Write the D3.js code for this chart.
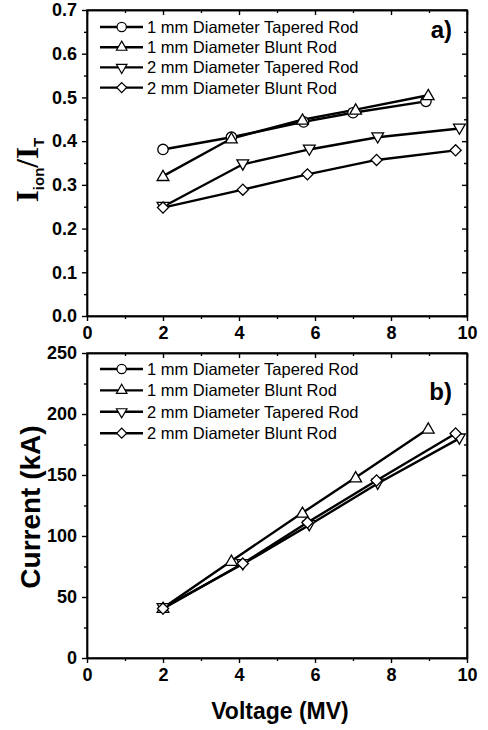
<!DOCTYPE html>
<html>
<head>
<meta charset="utf-8">
<script src="https://cdn.jsdelivr.net/npm/d3@7"></script>
<style>
  body { margin: 0; background: #fff; }
  svg { display: block; font-family: "Liberation Sans", Arial, sans-serif; }
  .axis path, .axis line { stroke: #000; stroke-width: 1.4; }
  .axis text { font-size: 18px; font-weight: bold; fill: #000; }
  .legend text { font-size: 16.5px; fill: #000; }
</style>
</head>
<body>
<svg width="488" height="730"></svg>
<script>
// series names
const seriesNames = ["1 mm Diameter Tapered Rod", "1 mm Diameter Blunt Rod",
                     "2 mm Diameter Tapered Rod", "2 mm Diameter Blunt Rod"]

// voltage (MV) for each series
const voltTapered1 = [2, 3.8, 5.7, 7.0, 8.92]
const voltBlunt1   = [2, 3.8, 5.67, 7.07, 8.98]
const voltTapered2 = [2, 4.1, 5.85, 7.65, 9.8]
const voltBlunt2   = [2, 4.1, 5.8, 7.62, 9.7]

// panel a) I_ion / I_T
const ratioTapered1 = [0.381, 0.409, 0.444, 0.465, 0.491]
const ratioBlunt1   = [0.320, 0.406, 0.449, 0.472, 0.505]
const ratioTapered2 = [0.250, 0.347, 0.381, 0.409, 0.429]
const ratioBlunt2   = [0.248, 0.289, 0.324, 0.357, 0.379]

// panel b) current (kA); tapered 1 mm points are not visible in this panel
const curTapered1 = []
const curBlunt1   = [41, 79.6, 119, 148, 188]
const curTapered2 = [41, 77, 109, 143, 180]
const curBlunt2   = [40.5, 77.4, 111, 145.5, 184]

// ticks
const xTicks = [0, 2, 4, 6, 8, 10]
const xMinor = [1, 3, 5, 7, 9]
const ratioTicks = [0.0, 0.1, 0.2, 0.3, 0.4, 0.5, 0.6, 0.7]
const ratioMinor = [0.05, 0.15, 0.25, 0.35, 0.45, 0.55, 0.65]
const curTicks = [0, 50, 100, 150, 200, 250]
const curMinor = [25, 75, 125, 175, 225]

const svg = d3.select("svg")

const markerSymbols = [
    {type: d3.symbolCircle, size: 85, rot: 0},
    {type: d3.symbolTriangle, size: 60, rot: 0},
    {type: d3.symbolTriangle, size: 60, rot: 180},
    {type: d3.symbolSquare, size: 62, rot: 45}
]

const scaleX = d3.scaleLinear().domain([0, 10]).range([87, 467])

const drawPanel = function(opts){
    const scaleY = d3.scaleLinear().domain(opts.yDomain).range([opts.bottom, opts.top])
    const g = svg.append("g")

    // frame
    g.append("rect")
        .attr("x", scaleX(0)).attr("y", opts.top)
        .attr("width", scaleX(10) - scaleX(0)).attr("height", opts.bottom - opts.top)
        .attr("fill", "none").attr("stroke", "#000").attr("stroke-width", 1.4)

    // bottom + left axes with labels
    g.append("g").attr("class", "axis")
        .attr("transform", `translate(0,${opts.bottom})`)
        .call(d3.axisBottom(scaleX).tickValues(xTicks).tickFormat(d3.format("d"))
            .tickSize(5).tickSizeOuter(0).tickPadding(5))
    g.append("g").attr("class", "axis")
        .attr("transform", `translate(0,${opts.bottom})`)
        .call(d3.axisBottom(scaleX).tickValues(xMinor).tickFormat("").tickSize(3).tickSizeOuter(0))
    g.append("g").attr("class", "axis")
        .attr("transform", `translate(${scaleX(0)},0)`)
        .call(d3.axisLeft(scaleY).tickValues(opts.yTicks).tickFormat(opts.yFormat)
            .tickSize(5).tickSizeOuter(0).tickPadding(5))
    g.append("g").attr("class", "axis")
        .attr("transform", `translate(${scaleX(0)},0)`)
        .call(d3.axisLeft(scaleY).tickValues(opts.yMinor).tickFormat("").tickSize(3).tickSizeOuter(0))

    // mirrored ticks, inward
    g.append("g").attr("class", "axis")
        .attr("transform", `translate(0,${opts.top})`)
        .call(d3.axisTop(scaleX).tickValues(xTicks).tickFormat("").tickSize(-5).tickSizeOuter(0))
    g.append("g").attr("class", "axis")
        .attr("transform", `translate(0,${opts.top})`)
        .call(d3.axisTop(scaleX).tickValues(xMinor).tickFormat("").tickSize(-3).tickSizeOuter(0))
    g.append("g").attr("class", "axis")
        .attr("transform", `translate(${scaleX(10)},0)`)
        .call(d3.axisRight(scaleY).tickValues(opts.yTicks).tickFormat("").tickSize(-5).tickSizeOuter(0))
    g.append("g").attr("class", "axis")
        .attr("transform", `translate(${scaleX(10)},0)`)
        .call(d3.axisRight(scaleY).tickValues(opts.yMinor).tickFormat("").tickSize(-3).tickSizeOuter(0))

    const line = d3.line()
        .x(d => scaleX(d[0]))
        .y(d => scaleY(d[1]))

    const series = opts.series.map((s, i) => ({
        i: i,
        pts: s.x.slice(0, s.y.length).map((v, j) => [v, s.y[j]])
    }))

    g.selectAll("path.series")
        .data(series)
        .enter()
        .append("path")
        .attr("class", "series")
        .attr("d", d => line(d.pts))
        .attr("fill", "none")
        .attr("stroke", "#000")
        .attr("stroke-width", 2.4)

    series.forEach(s => {
        const m = markerSymbols[s.i]
        g.selectAll(null)
            .data(s.pts)
            .enter()
            .append("path")
            .attr("d", d3.symbol().type(m.type).size(m.size))
            .attr("transform", d => {
                const dy = m.type === d3.symbolTriangle ? (m.rot ? -1 : 1) : 0
                return `translate(${scaleX(d[0])},${scaleY(d[1]) + dy}) rotate(${m.rot})`
            })
            .attr("fill", "#fff")
            .attr("stroke", "#000")
            .attr("stroke-width", 1.3)
    })

    // legend
    const legend = g.append("g").attr("class", "legend")
    seriesNames.forEach((name, i) => {
        const y = opts.legendTop + i * opts.legendStep
        legend.append("line")
            .attr("x1", 100).attr("x2", 143).attr("y1", y).attr("y2", y)
            .attr("stroke", "#000").attr("stroke-width", 2.4)
        const m = markerSymbols[i]
        legend.append("path")
            .attr("d", d3.symbol().type(m.type).size(m.size * 0.8))
            .attr("transform", `translate(121.7,${y}) rotate(${m.rot})`)
            .attr("fill", "#fff").attr("stroke", "#000").attr("stroke-width", 1.2)
        legend.append("text")
            .attr("x", 147).attr("y", y + 6)
            .text(name)
    })

    g.append("text")
        .attr("x", 452).attr("y", opts.tagY)
        .attr("text-anchor", "end")
        .attr("font-size", 24).attr("font-weight", "bold")
        .text(opts.tag)
}

drawPanel({
    top: 10, bottom: 316, yDomain: [0, 0.7],
    yTicks: ratioTicks, yMinor: ratioMinor, yFormat: d3.format(".1f"),
    series: [
        {x: voltTapered1, y: ratioTapered1},
        {x: voltBlunt1, y: ratioBlunt1},
        {x: voltTapered2, y: ratioTapered2},
        {x: voltBlunt2, y: ratioBlunt2}
    ],
    legendTop: 27, legendStep: 20.2, tag: "a)", tagY: 38
})

drawPanel({
    top: 353, bottom: 658, yDomain: [0, 250],
    yTicks: curTicks, yMinor: curMinor, yFormat: d3.format("d"),
    series: [
        {x: voltTapered1, y: curTapered1},
        {x: voltBlunt1, y: curBlunt1},
        {x: voltTapered2, y: curTapered2},
        {x: voltBlunt2, y: curBlunt2}
    ],
    legendTop: 369, legendStep: 21.4, tag: "b)", tagY: 400
})

// axis titles
svg.append("text")
    .attr("x", 280).attr("y", 719)
    .attr("text-anchor", "middle")
    .attr("font-size", 23).attr("font-weight", "bold")
    .text("Voltage (MV)")

svg.append("text")
    .attr("transform", "translate(40,507) rotate(-90)")
    .attr("text-anchor", "middle")
    .attr("font-size", 28).attr("font-weight", "bold")
    .text("Current (kA)")

const yTitle = svg.append("text")
    .attr("transform", "translate(38,170) rotate(-90)")
    .attr("text-anchor", "middle")
    .attr("font-weight", "bold")
yTitle.append("tspan").attr("font-family", "Liberation Serif, Times New Roman, serif").attr("font-size", 31).text("I")
yTitle.append("tspan").attr("font-size", 15).attr("dy", 6).text("ion")
yTitle.append("tspan").attr("font-family", "Liberation Serif, Times New Roman, serif").attr("font-size", 31).attr("dy", -6).text("/I")
yTitle.append("tspan").attr("font-size", 15).attr("dy", 6).text("T")
</script>
</body>
</html>
